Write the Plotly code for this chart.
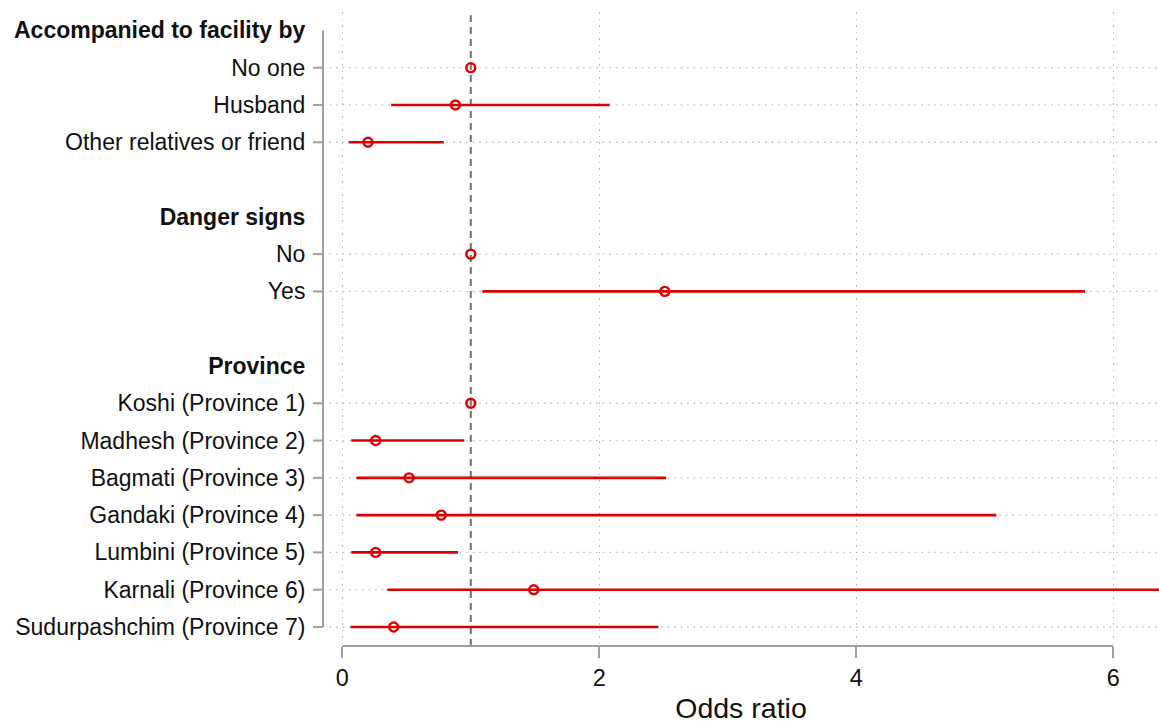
import plotly.graph_objects as go

# ---- data ----
row_labels = [
    "Accompanied to facility by", "No one", "Husband", "Other relatives or friend", "",
    "Danger signs", "No", "Yes", "",
    "Province", "Koshi (Province 1)", "Madhesh (Province 2)", "Bagmati (Province 3)",
    "Gandaki (Province 4)", "Lumbini (Province 5)", "Karnali (Province 6)",
    "Sudurpashchim (Province 7)",
]
header_rows = ["Accompanied to facility by", "Danger signs", "Province"]

item_labels = [
    "No one", "Husband", "Other relatives or friend",
    "No", "Yes",
    "Koshi (Province 1)", "Madhesh (Province 2)", "Bagmati (Province 3)",
    "Gandaki (Province 4)", "Lumbini (Province 5)", "Karnali (Province 6)",
    "Sudurpashchim (Province 7)",
]
odds_ratio = [1.0, 0.88, 0.20, 1.0, 2.51, 1.0, 0.26, 0.52, 0.77, 0.26, 1.49, 0.40]
ci_low = [None, 0.38, 0.05, None, 1.09, None, 0.07, 0.11, 0.11, 0.07, 0.35, 0.065]
ci_high = [None, 2.08, 0.79, None, 5.78, None, 0.95, 2.52, 5.09, 0.90, 8.50, 2.46]

x_ticks = [0, 2, 4, 6]
ref_value = 1

RED = "#DD0000"
GRAY = "#A0A0A0"
GRID = "#BDBDBD"

row_index = {lab: i for i, lab in enumerate(row_labels) if lab}
item_y = [row_index[l] for l in item_labels]

fig = go.Figure()

# CI lines
ci_x, ci_y = [], []
for y, lo, hi in zip(item_y, ci_low, ci_high):
    if lo is None:
        continue
    ci_x += [lo, hi, None]
    ci_y += [y, y, None]
fig.add_trace(go.Scatter(x=ci_x, y=ci_y, mode="lines",
                         line=dict(color=RED, width=2.6), hoverinfo="skip",
                         showlegend=False))

# point estimates
fig.add_trace(go.Scatter(x=odds_ratio, y=item_y, mode="markers",
                         marker=dict(symbol="circle-open", size=9, color=RED,
                                     line=dict(width=2.4, color=RED)),
                         showlegend=False))

shapes = []
# horizontal dotted gridlines for item rows
for y in item_y:
    shapes.append(dict(type="line", xref="paper", yref="y", x0=0.008, x1=1, y0=y, y1=y,
                       line=dict(color=GRID, width=1.3, dash="1.5px,5px"), layer="below"))
    # tick marks on y axis
    shapes.append(dict(type="line", xref="paper", yref="y", x0=-0.012, x1=0, y0=y, y1=y,
                       line=dict(color=GRAY, width=2)))
# y-axis line
shapes.append(dict(type="line", xref="paper", yref="y", x0=0, x1=0,
                   y0=0, y1=len(row_labels) - 1, line=dict(color=GRAY, width=2)))
# x-axis line (from first to last tick)
shapes.append(dict(type="line", xref="x", yref="paper", x0=x_ticks[0], x1=x_ticks[-1],
                   y0=0, y1=0, line=dict(color=GRAY, width=2)))
# reference line at OR=1
shapes.append(dict(type="line", xref="x", yref="paper", x0=ref_value, x1=ref_value,
                   y0=0, y1=0.995, line=dict(color="#707070", width=2, dash="7px,5px"),
                   layer="below"))

ticktext = [f"<b>{l}</b>" if l in header_rows else l for l in row_labels]

fig.update_layout(
    width=1159, height=724,
    margin=dict(l=323, r=0, t=12, b=78),
    paper_bgcolor="white", plot_bgcolor="white",
    font=dict(family="Liberation Sans, Arial, sans-serif", color="#111111"),
    shapes=shapes,
    xaxis=dict(
        range=[-0.150, 6.356],
        tickvals=x_ticks, ticktext=[str(t) for t in x_ticks],
        showgrid=True, gridcolor=GRID, griddash="1.5px,5px", gridwidth=1.3,
        zeroline=False, showline=False,
        ticks="outside", ticklen=11, tickwidth=2, tickcolor=GRAY,
        tickfont=dict(size=23.5),
        title=dict(text="Odds ratio", font=dict(size=28.5), standoff=12),
    ),
    yaxis=dict(
        range=[16.51, -0.493],
        tickvals=list(range(len(row_labels))), ticktext=ticktext,
        showgrid=False, zeroline=False, showline=False,
        ticks="outside", ticklen=10, tickcolor="rgba(0,0,0,0)",
        ticklabelstandoff=2,
        tickfont=dict(size=23),
    ),
)

fig.write_html("out.html")
